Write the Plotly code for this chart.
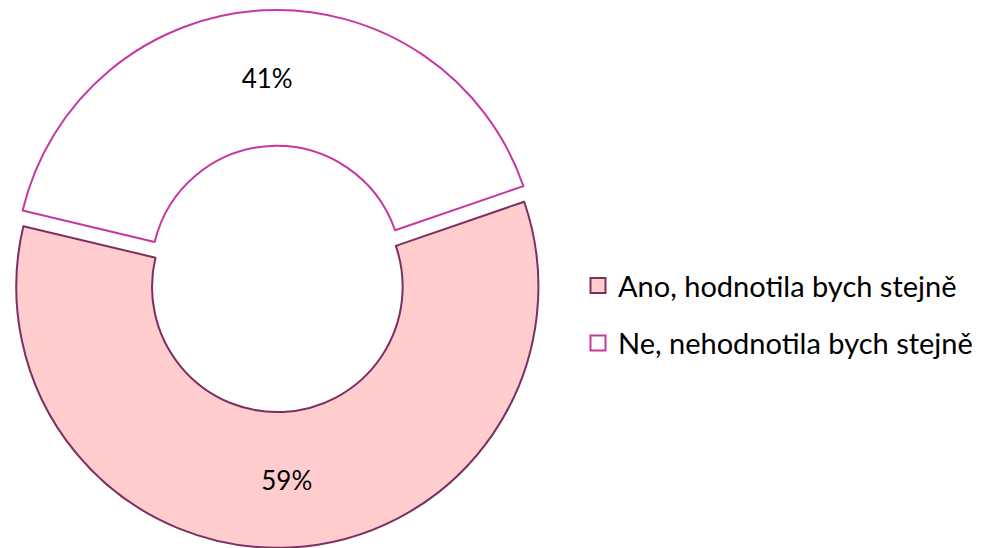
import plotly.graph_objects as go

labels = ["Ano, hodnotila bych stejně", "Ne, nehodnotila bych stejně"]
values = [59, 41]
fill_colors = ["#FFCDCE", "#FFFFFF"]
line_colors = ["#7B2F63", "#C8379F"]

fig = go.Figure()

fig.add_trace(
    go.Pie(
        labels=labels,
        values=values,
        hole=0.48,
        sort=False,
        direction="clockwise",
        rotation=71,
        pull=[0.03, 0.03],
        textinfo="percent",
        textposition="inside",
        insidetextorientation="horizontal",
        textfont=dict(size=26, color="black"),
        marker=dict(colors=fill_colors, line=dict(color=line_colors, width=2)),
        domain=dict(x=[0, 0.545], y=[0.015, 1]),
        showlegend=False,
        hoverinfo="label+percent",
    )
)

# legend entries as separate groups so the gap between them can be set
for label, fc, lc in zip(labels, fill_colors, line_colors):
    fig.add_trace(
        go.Scatter(
            x=[None],
            y=[None],
            mode="markers",
            name=label,
            legendgroup=label,
            marker=dict(symbol="square", size=15, color=fc, line=dict(color=lc, width=2)),
        )
    )

fig.update_layout(
    width=987,
    height=548,
    margin=dict(l=0, r=0, t=2, b=0),
    paper_bgcolor="white",
    plot_bgcolor="white",
    font=dict(family="Lato, Open Sans, sans-serif", color="black"),
    xaxis=dict(visible=False),
    yaxis=dict(visible=False),
    legend=dict(
        x=0.5775,
        y=0.542,
        xanchor="left",
        yanchor="top",
        font=dict(size=29),
        tracegroupgap=17,
        itemwidth=30,
    ),
)

fig.write_html("out.html")
